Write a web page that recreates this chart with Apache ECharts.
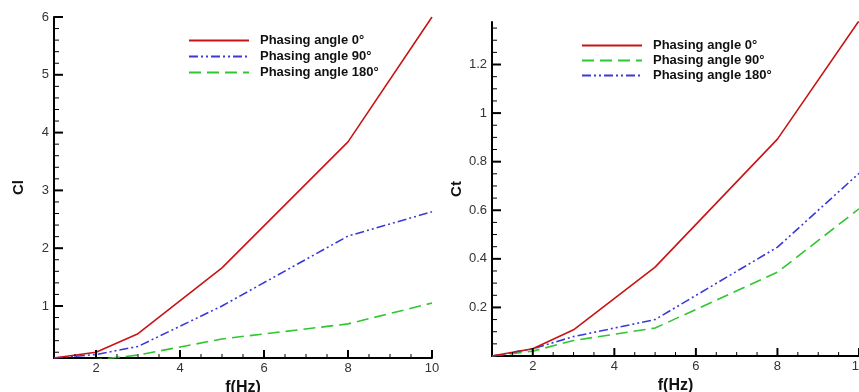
<!DOCTYPE html>
<html><head><meta charset="utf-8">
<script src="https://cdn.jsdelivr.net/npm/echarts@6/dist/echarts.min.js"></script>
<style>html,body{margin:0;padding:0;background:#fff}#c{width:859px;height:392px}</style>
</head><body><div id="c"></div>
<script>
// ---- data ----
const freq = [1, 2, 3, 5, 8, 10];
const clPhase0   = [0.1, 0.2, 0.52, 1.66, 3.84, 6.0];
const clPhase90  = [0.1, 0.16, 0.3, 1.0, 2.21, 2.63];
const clPhase180 = [0.0, 0.07, 0.15, 0.43, 0.69, 1.05];
const ctPhase0   = [0, 0.03, 0.108, 0.366, 0.893, 1.38];
const ctPhase90  = [0, 0.02, 0.064, 0.115, 0.345, 0.606];
const ctPhase180 = [0, 0.03, 0.08, 0.15, 0.448, 0.752];
const xMajor  = [2, 4, 6, 8, 10];
const clMajor = [1, 2, 3, 4, 5, 6];
const ctMajor = [0.2, 0.4, 0.6, 0.8, 1, 1.2];
const legendText = ['Phasing angle 0°', 'Phasing angle 90°', 'Phasing angle 180°'];

function minorTicks(lo, hi, step, majors) {
  const out = [];
  for (let v = lo; v <= hi + 1e-9; v += step) {
    const r = Math.round(v * 1000) / 1000;
    if (!majors.some(m => Math.abs(m - r) < 1e-6)) out.push(r);
  }
  return out;
}
const xMinor  = minorTicks(1.5, 9.5, 0.5, xMajor);
const clMinor = minorTicks(0.2, 5.8, 0.2, clMajor);
const ctMinor = minorTicks(0.05, 1.35, 0.05, ctMajor);

const X_MIN = 1, X_MAX = 10;
const CL_MIN = 0.1, CL_MAX = 6;
const CT_MIN = 0, CT_MAX = 1.375;

const FONT = 'Liberation Sans, Arial, sans-serif';
const RED = '#c81414', BLUE = '#3a3ad8', GREEN = '#2fc62f';
const DASH = [12, 6];
const DASHDOT = [9, 3, 2, 3, 2, 3];

function pair(xs, ys) { return xs.map((x, i) => [x, ys[i]]); }

function mainX(grid) {
  return {
    type: 'value', gridIndex: grid, min: X_MIN, max: X_MAX, position: 'bottom',
    name: 'f(Hz)', nameLocation: 'middle', nameGap: 15,
    nameTextStyle: { fontFamily: FONT, fontWeight: 'bold', fontSize: 16, color: '#111' },
    axisLine: { show: true, onZero: false, lineStyle: { color: '#000', width: 2 } },
    axisTick: { show: false },
    axisLabel: { show: true, customValues: xMajor, margin: 4, fontFamily: FONT, fontSize: 13, color: '#333' },
    splitLine: { show: false }
  };
}
function mainY(grid, min, max, name, majors, gap) {
  return {
    type: 'value', gridIndex: grid, min: min, max: max, position: 'left',
    name: name, nameLocation: 'middle', nameGap: gap,
    nameTextStyle: { fontFamily: FONT, fontWeight: 'bold', fontSize: 15, color: '#111' },
    axisLine: { show: true, onZero: false, lineStyle: { color: '#000', width: 2 } },
    axisTick: { show: false },
    axisLabel: { show: true, customValues: majors, margin: 5, fontFamily: FONT, fontSize: 13, color: '#333' },
    splitLine: { show: false }
  };
}
function line(name, gi, data, color, type) {
  return {
    type: 'line', name: name, xAxisIndex: gi, yAxisIndex: gi, data: data,
    symbol: 'none', clip: true, animation: false, z: 3,
    lineStyle: { color: color, width: 1.6, type: type }, itemStyle: { color: color }
  };
}
// tick marks drawn through the axes' scales
function ticks(gi, data, size, offset) {
  return {
    type: 'scatter', xAxisIndex: gi, yAxisIndex: gi, data: data,
    symbol: 'rect', symbolSize: size, symbolOffset: offset, clip: false,
    silent: true, animation: false, z: 6, itemStyle: { color: '#000', opacity: 1 }
  };
}
function axisTicks(gi, yMin, yMajors, yMinors) {
  return [
    ticks(gi, xMajor.map(v => [v, yMin]), [2, 8], [0, -4]),
    ticks(gi, xMinor.map(v => [v, yMin]), [1, 4], [0, -2]),
    ticks(gi, yMajors.map(v => [X_MIN, v]), [9, 2], [4.5, 0]),
    ticks(gi, yMinors.map(v => [X_MIN, v]), [5, 1], [2.5, 0])
  ];
}

const nameMap = {
  'cl0': legendText[0], 'cl90': legendText[1], 'cl180': legendText[2],
  'ct0': legendText[0], 'ct90': legendText[1], 'ct180': legendText[2]
};
const legendCommon = {
  orient: 'vertical', itemWidth: 60, itemHeight: 14, padding: 0,
  selectedMode: false,
  itemStyle: { opacity: 0 },
  formatter: n => nameMap[n],
  textStyle: { fontFamily: FONT, fontWeight: 'bold', fontSize: 13, color: '#111', padding: [0, 0, 0, 6] }
};

const option = {
  animation: false,
  backgroundColor: '#fff',
  grid: [
    { left: 54, top: 17, width: 378, height: 341, outerBoundsMode: 'none', containLabel: false },
    { left: 492, top: 22, width: 367, height: 334, outerBoundsMode: 'none', containLabel: false }
  ],
  xAxis: [mainX(0), mainX(1)],
  yAxis: [
    mainY(0, CL_MIN, CL_MAX, 'Cl', clMajor, 28),
    mainY(1, CT_MIN, CT_MAX, 'Ct', ctMajor, 28)
  ],
  legend: [
    Object.assign({}, legendCommon, { left: 188, top: 34, itemGap: 3, data: ['cl0', 'cl90', 'cl180'] }),
    Object.assign({}, legendCommon, { left: 581, top: 39, itemGap: 2, data: ['ct0', 'ct90', 'ct180'] })
  ],
  series: [
    line('cl180', 0, pair(freq, clPhase180), GREEN, DASH),
    line('cl90', 0, pair(freq, clPhase90), BLUE, DASHDOT),
    line('cl0', 0, pair(freq, clPhase0), RED, 'solid'),
    line('ct90', 1, pair(freq, ctPhase90), GREEN, DASH),
    line('ct180', 1, pair(freq, ctPhase180), BLUE, DASHDOT),
    line('ct0', 1, pair(freq, ctPhase0), RED, 'solid')
  ].concat(axisTicks(0, CL_MIN, clMajor, clMinor), axisTicks(1, CT_MIN, ctMajor, ctMinor))
};
const chart = echarts.init(document.getElementById('c'), null, { renderer: 'canvas' });
chart.setOption(option);
</script>
</body></html>
